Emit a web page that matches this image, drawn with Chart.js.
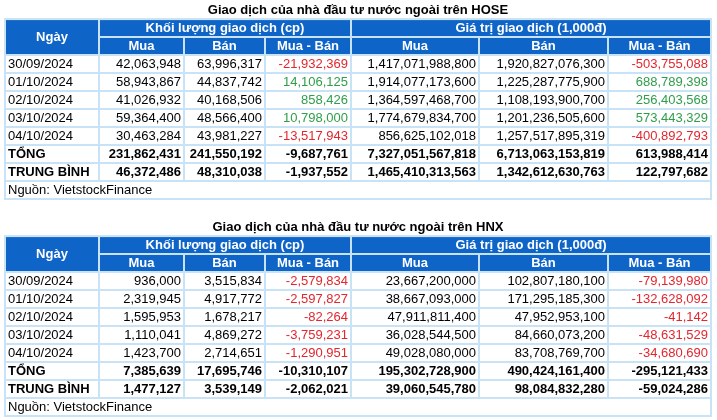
<!DOCTYPE html>
<html>
<head>
<meta charset="utf-8">
<script src="https://cdn.jsdelivr.net/npm/chart.js@4.4.1/dist/chart.umd.min.js"></script>
<style>
  html, body { margin: 0; padding: 0; background: #fff; }
  #wrap { position: relative; width: 717px; height: 420px; }
  .box { position: absolute; left: 0; width: 717px; height: 200px; }
</style>
</head>
<body>
<div id="wrap">
  <div class="box" style="top:0"><canvas id="hoseTable"></canvas></div>
  <div class="box" style="top:217px"><canvas id="hnxTable"></canvas></div>
</div>
<script>
// Days shown in both tables
const dates = ['30/09/2024', '01/10/2024', '02/10/2024', '03/10/2024', '04/10/2024'];

// HOSE
const hoseVolBuy  = [42063948, 58943867, 41026932, 59364400, 30463284];
const hoseVolSell = [63996317, 44837742, 40168506, 48566400, 43981227];
const hoseVolNet  = [-21932369, 14106125, 858426, 10798000, -13517943];
const hoseValBuy  = [1417071988800, 1914077173600, 1364597468700, 1774679834700, 856625102018];
const hoseValSell = [1920827076300, 1225287775900, 1108193900700, 1201236505600, 1257517895319];
const hoseValNet  = [-503755088, 688789398, 256403568, 573443329, -400892793];
const hoseTotal   = [231862431, 241550192, -9687761, 7327051567818, 6713063153819, 613988414];
const hoseAvg     = [46372486, 48310038, -1937552, 1465410313563, 1342612630763, 122797682];

// HNX
const hnxVolBuy  = [936000, 2319945, 1595953, 1110041, 1423700];
const hnxVolSell = [3515834, 4917772, 1678217, 4869272, 2714651];
const hnxVolNet  = [-2579834, -2597827, -82264, -3759231, -1290951];
const hnxValBuy  = [23667200000, 38667093000, 47911811400, 36028544500, 49028080000];
const hnxValSell = [102807180100, 171295185300, 47952953100, 84660073200, 83708769700];
const hnxValNet  = [-79139980, -132628092, -41142, -48631529, -34680690];
const hnxTotal   = [7385639, 17695746, -10310107, 195302728900, 490424161400, -295121433];
const hnxAvg     = [1477127, 3539149, -2062021, 39060545780, 98084832280, -59024286];

// Labels
const groupHeaders = ['Khối lượng giao dịch (cp)', 'Giá trị giao dịch (1,000đ)'];
const subHeaders = ['Mua', 'Bán', 'Mua - Bán'];
const summaryLabels = ['TỔNG', 'TRUNG BÌNH'];
const sourceText = 'Nguồn: VietstockFinance';

// layout / style
const colEdges = [0, 94, 179, 260, 346, 474, 603, 706];
const FONT = '"Liberation Sans", Arial, sans-serif';
const BLUE = '#0f64c8';
const GRID = '#c8e2f6';
const RED = '#e3262e';
const GREEN = '#2e9e4a';

const fmt = (n) => n.toLocaleString('en-US');

// Draws the table cells on top of the (hidden) category / linear scales
const tablePlugin = {
    id: 'cells',
    afterDraw(chart, args, opts) {
        const { ctx, scales: { x, y } } = chart;
        const band = y.getPixelForValue(1) - y.getPixelForValue(0);
        const top = (i) => y.getPixelForValue(i) - band / 2;
        const mid = (i) => y.getPixelForValue(i) + 0.5;
        const px = (i) => x.getPixelForValue(colEdges[i]);
        const nData = opts.rows.length;          // data rows
        const sumStart = 2 + nData;              // first summary row
        const srcRow = sumStart + 2;

        ctx.save();

        // header background
        ctx.fillStyle = BLUE;
        ctx.fillRect(px(0), top(0), px(7) - px(0), top(2) - top(0));

        // grid lines
        ctx.strokeStyle = GRID;
        ctx.lineWidth = 2;
        const line = (x1, y1, x2, y2) => {
            ctx.beginPath();
            ctx.moveTo(x1, y1);
            ctx.lineTo(x2, y2);
            ctx.stroke();
        };
        line(px(1), top(0), px(1), top(srcRow));
        line(px(4), top(0), px(4), top(srcRow));
        line(px(1), top(1), px(7), top(1));
        [2, 3, 5, 6].forEach(c => line(px(c), top(1), px(c), top(srcRow)));
        for (let r = 2; r < srcRow; r++) line(px(0), top(r), px(7), top(r));
        ctx.strokeRect(px(0), top(0), px(7) - px(0), top(srcRow) - top(0));
        ctx.strokeRect(px(0), top(srcRow), px(7) - px(0), top(srcRow + 1) - top(srcRow));

        ctx.textBaseline = 'middle';

        // header text
        ctx.fillStyle = '#fff';
        ctx.font = 'bold 13px ' + FONT;
        ctx.textAlign = 'center';
        ctx.fillText('Ngày', (px(0) + px(1)) / 2, (top(0) + top(2)) / 2 + 0.5);
        ctx.fillText(groupHeaders[0], (px(1) + px(4)) / 2, mid(0));
        ctx.fillText(groupHeaders[1], (px(4) + px(7)) / 2, mid(0));
        for (let c = 1; c <= 6; c++) {
            ctx.fillText(subHeaders[(c - 1) % 3], (px(c) + px(c + 1)) / 2, mid(1));
        }

        // body
        const drawRow = (r, label, vals, bold, colored) => {
            ctx.font = (bold ? 'bold ' : '') + '13px ' + FONT;
            ctx.fillStyle = '#000';
            ctx.textAlign = 'left';
            ctx.fillText(label, px(0) + 3, mid(r));
            ctx.textAlign = 'right';
            vals.forEach((v, i) => {
                const netCol = i === 2 || i === 5;
                ctx.fillStyle = colored && netCol ? (v < 0 ? RED : GREEN) : '#000';
                ctx.fillText(fmt(v), px(i + 2) - 3, mid(r));
            });
        };
        opts.rows.forEach((vals, i) => drawRow(2 + i, opts.labels[i], vals, false, true));
        drawRow(sumStart, summaryLabels[0], opts.total, true, false);
        drawRow(sumStart + 1, summaryLabels[1], opts.avg, true, false);

        ctx.font = '13px ' + FONT;
        ctx.fillStyle = '#000';
        ctx.textAlign = 'left';
        ctx.fillText(sourceText, px(0) + 3, mid(srcRow));

        ctx.restore();
    }
};

function buildTable(canvasId, title, cols, total, avg) {
    const rows = dates.map((d, i) => cols.map(c => c[i]));
    const rowKeys = ['head1', 'head2', ...dates, ...summaryLabels, 'source'];
    const ctx = document.getElementById(canvasId).getContext('2d');
    return new Chart(ctx, {
        type: 'bar',
        data: { labels: rowKeys, datasets: [] },
        options: {
            indexAxis: 'y',
            responsive: true,
            maintainAspectRatio: false,
            animation: false,
            layout: { padding: { left: 5, right: 6, top: 0, bottom: 1 } },
            scales: {
                x: { type: 'linear', min: 0, max: colEdges[colEdges.length - 1], display: false },
                y: { type: 'category', offset: true, display: false }
            },
            plugins: {
                legend: { display: false },
                tooltip: { enabled: false },
                title: {
                    display: true,
                    text: title,
                    color: '#000',
                    font: { family: FONT, size: 13, weight: 'bold' },
                    padding: { top: 2.5, bottom: 1 }
                },
                cells: { rows: rows, labels: dates, total: total, avg: avg }
            }
        },
        plugins: [tablePlugin]
    });
}

buildTable('hoseTable', 'Giao dịch của nhà đầu tư nước ngoài trên HOSE',
    [hoseVolBuy, hoseVolSell, hoseVolNet, hoseValBuy, hoseValSell, hoseValNet], hoseTotal, hoseAvg);
buildTable('hnxTable', 'Giao dịch của nhà đầu tư nước ngoài trên HNX',
    [hnxVolBuy, hnxVolSell, hnxVolNet, hnxValBuy, hnxValSell, hnxValNet], hnxTotal, hnxAvg);
</script>
</body>
</html>
